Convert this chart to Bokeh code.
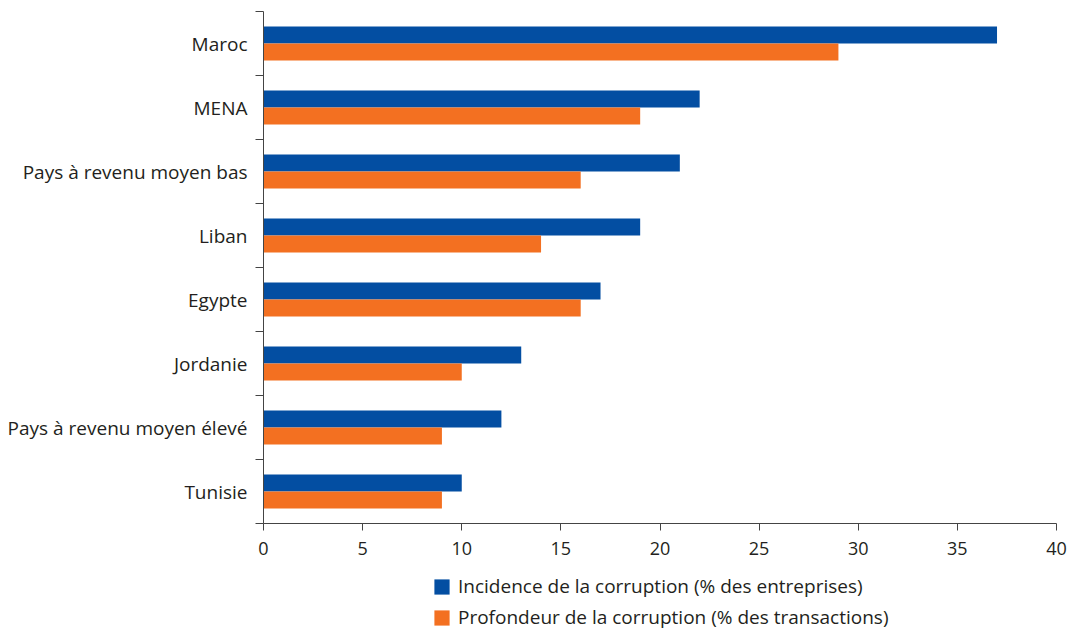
from bokeh.plotting import figure
from bokeh.models import ColumnDataSource, Range1d, FixedTicker, Legend, LegendItem
from bokeh.layouts import column
from bokeh.transform import dodge
from bokeh.embed import file_html
from bokeh.resources import INLINE

categories = ["Maroc", "MENA", "Pays à revenu moyen bas", "Liban", "Egypte",
              "Jordanie", "Pays à revenu moyen élevé", "Tunisie"]
incidence = [37.0, 22.0, 21.0, 19.0, 17.0, 13.0, 12.0, 10.0]
profondeur = [29.0, 19.0, 16.0, 14.0, 16.0, 10.0, 9.0, 9.0]
x_ticks = [0, 5, 10, 15, 20, 25, 30, 35, 40]
series_names = ["Incidence de la corruption (% des entreprises)",
                "Profondeur de la corruption (% des transactions)"]

BLUE = "#034ea2"
ORANGE = "#f37021"
FONT = "Open Sans"
TXT = "#231f20"
AXC = "#444444"

n = len(categories)
ypos = [n - i - 0.5 for i in range(n)]
src = ColumnDataSource(dict(y=ypos, inc=incidence, prof=profondeur, cat=categories))

p = figure(width=1069, height=566, x_range=Range1d(0, 40), y_range=Range1d(0, n),
           output_backend="svg", toolbar_location=None,
           min_border_left=263, min_border_right=13, min_border_top=11, min_border_bottom=43)
p.outline_line_color = None
p.xgrid.visible = False
p.ygrid.visible = False

bh = 0.266
r1 = p.hbar(y=dodge("y", bh / 2, range=p.y_range), right="inc", left=0, height=bh,
            source=src, fill_color=BLUE, line_color=None)
r2 = p.hbar(y=dodge("y", -bh / 2, range=p.y_range), right="prof", left=0, height=bh,
            source=src, fill_color=ORANGE, line_color=None)

xa = p.xaxis[0]
xa.ticker = FixedTicker(ticks=x_ticks, minor_ticks=[])
xa.major_tick_out = 7
xa.major_tick_in = 0
xa.minor_tick_out = 0
xa.axis_line_color = AXC
xa.major_tick_line_color = AXC
xa.major_label_text_font = FONT
xa.major_label_text_font_size = "18px"
xa.major_label_text_color = TXT
xa.major_label_standoff = 11

ya = p.yaxis[0]
ya.ticker = FixedTicker(ticks=ypos, minor_ticks=list(range(n + 1)))
ya.major_tick_out = 0
ya.major_tick_in = 0
ya.minor_tick_out = 8
ya.minor_tick_in = 0
ya.minor_tick_line_color = AXC
ya.axis_line_color = AXC
ya.major_label_overrides = {y: c for y, c in zip(ypos, categories)}
ya.major_label_text_font = FONT
ya.major_label_text_font_size = "19px"
ya.major_label_text_color = TXT
ya.major_label_standoff = 8

# legend strip below the chart: its renderers are hidden, only the legend shows
lg = figure(width=1069, height=64, x_range=Range1d(0, 40), y_range=Range1d(0, n),
            output_backend="svg", toolbar_location=None,
            min_border_left=263, min_border_right=13, min_border_top=0, min_border_bottom=0)
lg.axis.visible = False
lg.grid.visible = False
lg.outline_line_color = None
g1 = lg.hbar(y="y", right="inc", left=0, height=bh, source=src, fill_color=BLUE, line_color=None)
g2 = lg.hbar(y="y", right="prof", left=0, height=bh, source=src, fill_color=ORANGE, line_color=None)
g1.visible = False
g2.visible = False

legend = Legend(items=[LegendItem(label=series_names[0], renderers=[g1]),
                       LegendItem(label=series_names[1], renderers=[g2])],
                location=(169, 0), orientation="vertical",
                border_line_color=None, background_fill_alpha=0,
                inactive_fill_alpha=0,
                label_text_font=FONT, label_text_font_size="19px", label_text_color=TXT,
                glyph_width=19, glyph_height=19, label_height=20, label_standoff=7,
                spacing=5, padding=0, margin=0)
lg.add_layout(legend, "center")

open("out.html", "w").write(file_html(column(p, lg, spacing=0), INLINE))
